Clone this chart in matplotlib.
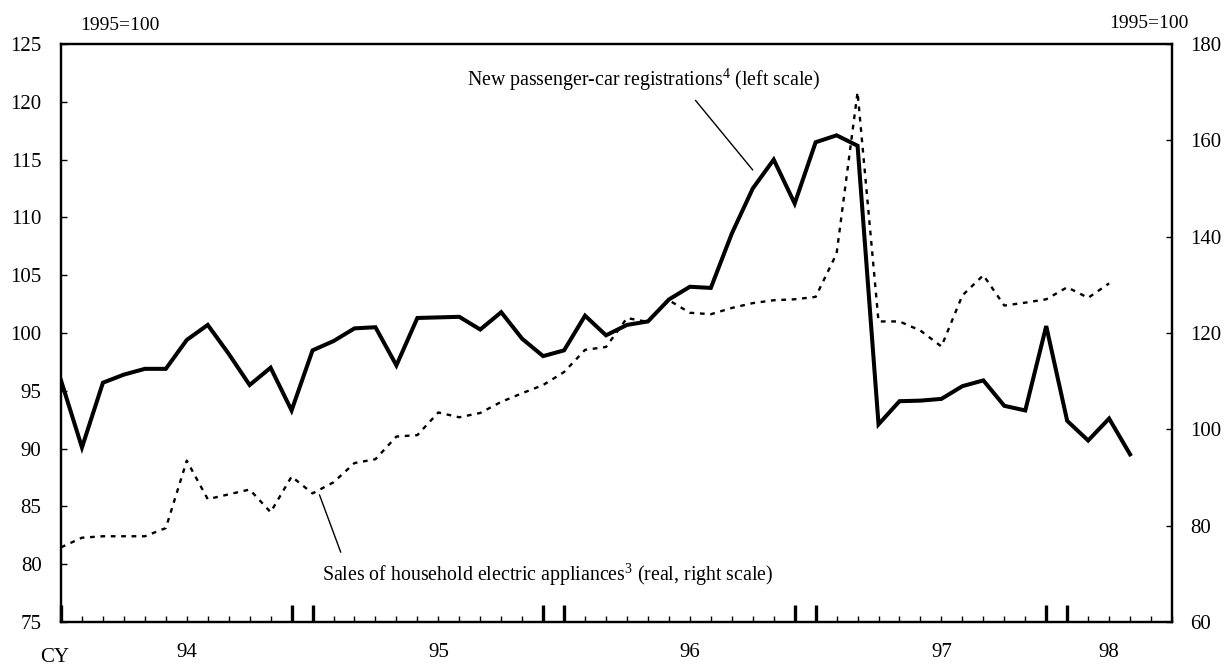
import numpy as np
import matplotlib
matplotlib.use("Agg")
import matplotlib.pyplot as plt

plt.rcParams['font.family'] = ['Liberation Serif', 'DejaVu Serif']
plt.rcParams['mathtext.fontset'] = 'custom'
plt.rcParams['mathtext.rm'] = 'Liberation Serif'

# monthly index, Jan 1994 = 0
car_reg = [95.9, 90.1, 95.7, 96.4, 96.9, 96.9, 99.4, 100.7, 98.2, 95.5, 97.0, 93.3,
           98.5, 99.3, 100.4, 100.5, 97.2, 101.3, 101.35, 101.4, 100.3, 101.8, 99.5, 98.0,
           98.5, 101.5, 99.8, 100.7, 101.0, 102.9, 104.0, 103.9, 108.6, 112.5, 115.0, 111.2,
           116.5, 117.1, 116.2, 92.1, 94.1, 94.15, 94.3, 95.4, 95.9, 93.7, 93.3, 100.6,
           92.4, 90.7, 92.6, 89.5]
appliances = [75.5, 77.5, 77.8, 77.8, 77.8, 79.5, 93.5, 85.5, 86.5, 87.5, 82.8, 90.2,
              86.7, 89.0, 93.0, 93.8, 98.5, 98.8, 103.5, 102.5, 103.4, 105.7, 107.5, 109.2,
              111.9, 116.5, 117.1, 123.1, 122.3, 126.8, 124.2, 123.9, 125.2, 126.2, 126.8, 127.0,
              127.5, 136.5, 170.0, 122.4, 122.4, 120.5, 117.2, 127.8, 132.0, 125.7, 126.3, 127.0,
              129.5, 127.3, 130.3]
year_labels = ['94', '95', '96', '97', '98']
year_pos = [6, 18, 30, 42, 50]
year_ticks = [0, 11, 12, 23, 24, 35, 36, 47, 48]

fig = plt.figure(figsize=(12.28, 6.66), dpi=100)
ax = fig.add_axes([61/1228, 1-622/666, (1172-61)/1228, (622-44)/666])
ax2 = ax.twinx()

ax.plot(np.arange(len(car_reg)), car_reg, color='black', lw=2.9, solid_joinstyle='miter', zorder=3)
ax2.plot(np.arange(len(appliances)), appliances, color='black', lw=1.7, linestyle=(0, (2.0, 2.4)))

ax.set_xlim(0, 53)
ax.set_ylim(75, 125)
ax.set_yticks(np.arange(75, 126, 5))
ax2.set_ylim(60, 180)
ax2.set_yticks(np.arange(60, 181, 20))

ax.set_xticks(year_ticks)
ax.set_xticklabels([])
ax.set_xticks(np.arange(0, 54), minor=True)
ax.tick_params(axis='x', which='major', direction='in', length=12, width=2.4)
ax.tick_params(axis='x', which='minor', direction='in', length=4.5, width=1)
ax.tick_params(axis='y', direction='in', length=4.5, width=1, labelsize=15, pad=14)
ax2.tick_params(axis='y', direction='in', length=4.5, width=1, labelsize=15, pad=13)

for a in (ax, ax2):
    for s in a.spines.values():
        s.set_linewidth(1.6)

for p, lab in zip(year_pos, year_labels):
    ax.text(p, -0.052, lab, transform=ax.get_xaxis_transform(), ha='center', va='center', fontsize=15)
ax.text(-0.3, -0.061, 'CY', transform=ax.get_xaxis_transform(), ha='center', va='center', fontsize=15)

fig.text(120/1228, 1-25/666, '1995=100', ha='center', va='center', fontsize=14)
fig.text(1149/1228, 1-24/666, '1995=100', ha='center', va='center', fontsize=14)

ax.annotate('New passenger-car registrations$^{\\mathrm{4}}$ (left scale)', xy=(33.0, 114.1), xytext=(27.8, 121.9),
            ha='center', va='center', fontsize=14.3,
            arrowprops=dict(arrowstyle='-', color='black', lw=1, shrinkA=4, shrinkB=0, relpos=(0.63, 0.0)))
ax.annotate('Sales of household electric appliances$^{\\mathrm{3}}$ (real, right scale)', xy=(12.33, 86.0), xytext=(23.2, 79.07),
            ha='center', va='center', fontsize=14.3,
            arrowprops=dict(arrowstyle='-', color='black', lw=1, shrinkA=5, shrinkB=0, relpos=(0.05, 1.0)))

plt.savefig('out.png', dpi=100)
